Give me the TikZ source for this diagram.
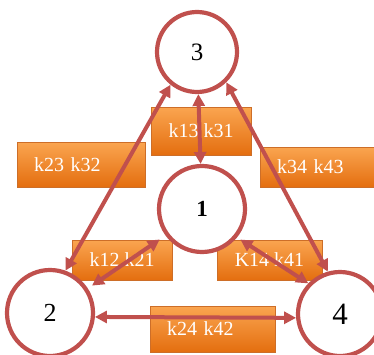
\documentclass[tikz,border=0pt]{standalone}
\usepackage{fontspec}
\setmainfont{Liberation Serif}
\usetikzlibrary{arrows.meta}

\definecolor{stateRed}{RGB}{192,80,77}
\definecolor{rateTop}{RGB}{250,165,80}
\definecolor{rateBottom}{RGB}{228,110,15}
\definecolor{rateEdge}{RGB}{205,110,40}

\tikzset{
	state/.style={circle, draw=stateRed, line width=4.2pt, fill=white, inner sep=0pt},
	rate/.style={rectangle, top color=rateTop, bottom color=rateBottom, draw=rateEdge, line width=0.6pt,
		text=white, font=\fontsize{20}{23}\selectfont, inner xsep=17pt, inner ysep=0pt, align=left},
	ratec/.style={rate, inner xsep=0pt, align=center},
	link/.style={stateRed, line width=4pt, {Triangle[length=12pt,width=12pt]}-{Triangle[length=12pt,width=12pt]}}
}

\begin{document}
\begin{tikzpicture}[x=1pt,y=1pt]

	\useasboundingbox (0,0) rectangle (374,354);

	% rate constants
	\node[rate, text width=94pt, minimum height=45pt] (b23) at (81,189.5) {k23 k32};
	\node[ratec, minimum width=100pt, minimum height=48pt] (b13) at (201,223) {k13 k31};
	\node[rate, text width=94pt, minimum height=40pt] (b34) at (324,187) {k34 k43};
	\node[ratec, minimum width=100pt, minimum height=40pt] (b12) at (122,94) {k12 k21};
	\node[ratec, minimum width=105pt, minimum height=40pt] (b14) at (269.5,94) {K14 k41};
	\node[rate, text width=91pt, minimum height=46pt] (b24) at (212.5,25) {k24 k42};

	% compartments
	\node[state, minimum size=80pt, font=\fontsize{25}{28}\selectfont] (n3) at (197,302) {3};
	\node[state, minimum size=86pt, font=\fontsize{23}{26}\selectfont\bfseries] (n1) at (202,145) {1};
	\node[state, minimum size=86pt, font=\fontsize{26}{30}\selectfont] (n2) at (50,41) {2};
	\node[state, minimum size=84pt, font=\fontsize{31}{34}\selectfont] (n4) at (340,40) {4};

	\draw[link] (n3) -- (n1);
	\draw[link] (n3.231) -- (n2.70);
	\draw[link] (n3.314) -- (n4.106);
	\draw[link, shorten <=7pt, shorten >=5pt] (n1.216) -- (n2.33);
	\draw[link, shorten <=4pt] (n1.321) -- (n4.136);
	\draw[link] (n2.-5) -- (n4.185);

\end{tikzpicture}
\end{document}
